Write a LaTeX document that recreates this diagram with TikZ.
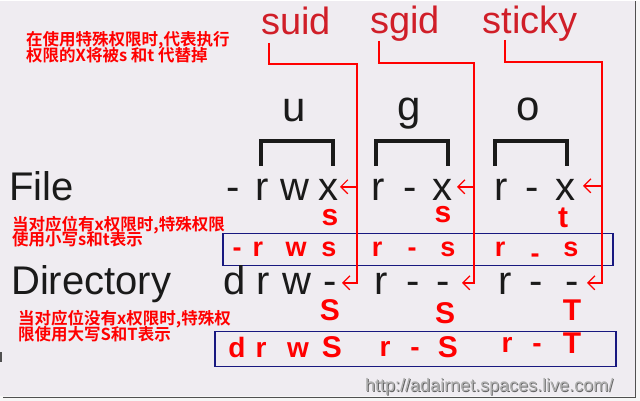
\documentclass[tikz,border=0pt]{standalone}
\usepackage{fontspec}
\setmainfont{Liberation Sans}
\newfontfamily\cjk{Noto Sans CJK SC Bold}
\usetikzlibrary{arrows.meta}
\definecolor{bg}{RGB}{239,236,241}
\definecolor{outer}{RGB}{246,246,246}
\definecolor{frame}{RGB}{80,80,80}
\definecolor{lab}{RGB}{208,30,40}
\definecolor{ink}{RGB}{26,26,26}
\definecolor{navy}{RGB}{24,24,128}
\definecolor{rd}{RGB}{255,0,0}
\definecolor{urlc}{RGB}{175,175,175}
\definecolor{urls}{RGB}{100,100,100}
\tikzset{
 blk/.style={text=ink, font=\fontsize{40}{40}\selectfont, anchor=base, inner sep=0},
 ugo/.style={text=ink, font=\fontsize{42}{42}\selectfont, anchor=base, inner sep=0},
 lbl/.style={text=lab, font=\fontsize{38}{38}\selectfont, anchor=base, inner sep=0},
 rs/.style={text=rd, font=\bfseries\fontsize{30}{30}\selectfont, anchor=base, inner sep=0},
 bxa/.style={text=rd, font=\bfseries\fontsize{27}{27}\selectfont, anchor=base, inner sep=0},
 bxb/.style={text=rd, font=\bfseries\fontsize{28}{28}\selectfont, anchor=base, inner sep=0},
 bxbig/.style={text=rd, font=\bfseries\fontsize{30}{30}\selectfont, anchor=base, inner sep=0},
 cn/.style={text=rd, font=\cjk\fontsize{16.5}{16.5}\selectfont, anchor=base west, inner sep=0},
 rl/.style={draw=rd, line width=1.8},
 ar/.style={rl, -{Straight Barb[length=7,width=14,line width=1.2pt]}},
 brk/.style={draw=ink, line width=4.5},
 boxline/.style={draw=navy, line width=1.2},
}
\begin{document}
\begin{tikzpicture}[x=1pt,y=-1pt]
% background and frame
\fill[outer] (0,0) rectangle (640,400);
\fill[bg] (0,0) rectangle (635,395.5);
\draw[frame, line width=1.6] (635.5,0) -- (635.5,396.5) -- (3,396.5);
\fill[frame] (0,351) rectangle (2,361);
\useasboundingbox (0,0) rectangle (640,400);

% chinese notes
\node[cn] (n1a) at (26,45) {在使用特殊权限时,代表执行};
\node[cn] (n1b) at (26,61) {权限的X将被s 和t 代替掉};
\node[cn] (n2a) at (12,230) {当对应位有x权限时,特殊权限};
\node[cn] (n2b) at (12,245) {使用小写s和t表示};
\node[cn] (n3a) at (18,324) {当对应位没有x权限时,特殊权};
\node[cn] (n3b) at (18,340) {限使用大写S和T表示};

% top labels
\node[lbl] (suid) at (296,34) {suid};
\node[lbl] (sgid) at (405,33) {sgid};
\node[lbl] (sticky) at (530,33) {sticky};

% u g o
\node[ugo] (u) at (294,121) {u};
\node[ugo] (g) at (409,120) {g};
\node[ugo] (o) at (528,120) {o};
\draw[brk] (261,165) -- (261,140) -- (333,140) -- (333,165);
\draw[brk] (376,165) -- (376,140) -- (448,140) -- (448,165);
\draw[brk] (495,165) -- (495,140) -- (567,140) -- (567,165);

% File row
\node[blk, anchor=base west] (file) at (9,200) {File};
\node[blk] (f1) at (233,200) {-};
\node[blk] (f2) at (262,200) {r};
\node[blk] (f3) at (295,200) {w};
\node[blk] (f4) at (328,200) {x};
\node[blk] (f5) at (378,200) {r};
\node[blk] (f6) at (410,200) {-};
\node[blk] (f7) at (442,200) {x};
\node[blk] (f8) at (501,200) {r};
\node[blk] (f9) at (532,200) {-};
\node[blk] (f10) at (565,200) {x};

% red small letters
\node[rs] (s1) at (330,225) {s};
\node[rs] (s2) at (443,222) {s};
\node[rs] (t1) at (563,227) {t};

% box 1
\draw[boxline] (223,233) rectangle (613,265);
\node[bxa] (a1) at (237,256) {-};
\node[bxa] (a2) at (258,256) {r};
\node[bxa] (a3) at (296,256) {w};
\node[bxa] (a4) at (329,256) {s};
\node[bxa] (a5) at (377,256) {r};
\node[bxa] (a6) at (412,256) {-};
\node[bxa] (a7) at (448,256) {s};
\node[bxa] (a8) at (500,256) {r};
\node[bxa] (a9) at (535,262) {-};
\node[bxa] (a10) at (571,256) {s};

% Directory row
\node[blk, anchor=base west] (dir) at (11,294) {Directory};
\node[blk] (d1) at (235,294) {d};
\node[blk] (d2) at (263,294) {r};
\node[blk] (d3) at (297,294) {w};
\node[blk] (d4) at (330,294) {-};
\node[blk] (d5) at (381,294) {r};
\node[blk] (d6) at (413,294) {-};
\node[blk] (d7) at (443,294) {-};
\node[blk] (d8) at (505,294) {r};
\node[blk] (d9) at (536,294) {-};
\node[blk] (d10) at (572,294) {-};

% red capitals
\node[rs] (S1) at (330,320) {S};
\node[rs] (S2) at (445,323) {S};
\node[rs] (T1) at (572,320) {T};

% box 2
\draw[boxline] (215,331) rectangle (616,366);
\node[bxb] (b1) at (237,357) {d};
\node[bxb] (b2) at (261,357) {r};
\node[bxb] (b3) at (298,357) {w};
\node[bxbig] (b4) at (332,357) {S};
\node[bxb] (b5) at (385,356) {r};
\node[bxb] (b6) at (415,356) {-};
\node[bxbig] (b7) at (448,357) {S};
\node[bxb] (b8) at (507,352) {r};
\node[bxb] (b9) at (537,352) {-};
\node[bxbig] (b10) at (572,353) {T};

% red connectors
\coordinate (su0) at (269,42);
\coordinate (su1) at (357,63);
\coordinate (su2) at (357,186);
\coordinate (su3) at (357,282);
\coordinate (sua) at (340,186);
\coordinate (sub) at (342,282);
\draw[ar] (su0) |- (su1) -- (su3) -- (sub);
\draw[ar] (su2) -- (sua);

\coordinate (sg0) at (379,40);
\coordinate (sg1) at (474,62);
\coordinate (sg2) at (474,186);
\coordinate (sg3) at (474,282);
\coordinate (sga) at (457,186);
\coordinate (sgb) at (462,282);
\draw[ar] (sg0) |- (sg1) -- (sg3) -- (sgb);
\draw[ar] (sg2) -- (sga);

\coordinate (st0) at (505,39);
\coordinate (st1) at (602,61);
\coordinate (st2) at (602,185);
\coordinate (st3) at (602,282);
\coordinate (sta) at (583,185);
\coordinate (stb) at (587,282);
\draw[ar] (st0) |- (st1) -- (st3) -- (stb);
\draw[ar] (st2) -- (sta);

% url
\node[anchor=base west, inner sep=0, text=urls, font=\fontsize{18}{18}\selectfont] (urlsh) at (365.8,391.8) {http://adairnet.spaces.live.com/};
\node[anchor=base west, inner sep=0, text=urlc, font=\fontsize{18}{18}\selectfont] (url) at (365,391) {http://adairnet.spaces.live.com/};
\end{tikzpicture}
\end{document}
